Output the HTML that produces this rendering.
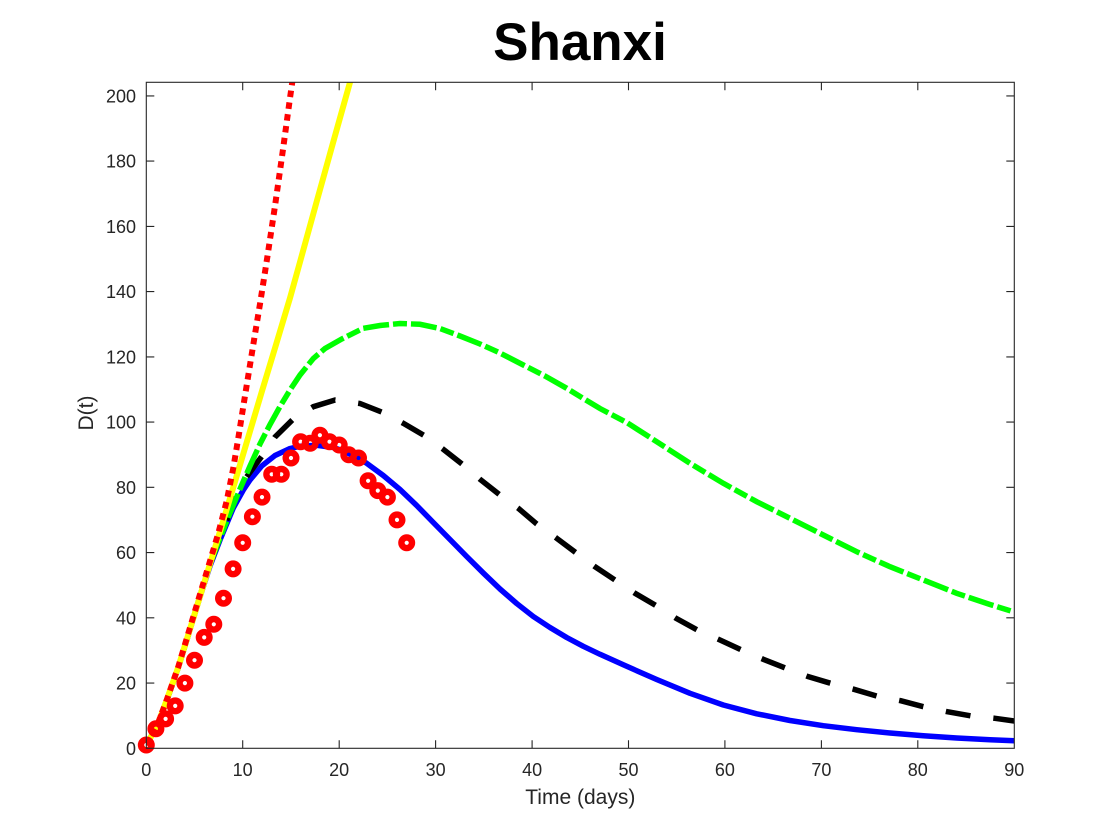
<!DOCTYPE html>
<html>
<head>
<meta charset="utf-8">
<style>
html,body{margin:0;padding:0;background:#fff;}
svg{display:block;}
text{font-family:"Liberation Sans",Arial,Helvetica,sans-serif;fill:#262626;}
</style>
</head>
<body>
<svg width="1120" height="840" viewBox="0 0 1120 840" xmlns="http://www.w3.org/2000/svg">
<defs>
<clipPath id="ax"><rect x="146.3" y="82.3" width="868" height="666"/></clipPath>
</defs>
<rect x="0" y="0" width="1120" height="840" fill="#fff"/>

<!-- title -->
<text x="580" y="60" font-size="53" font-weight="bold" text-anchor="middle" style="fill:#000">Shanxi</text>

<g clip-path="url(#ax)" fill="none" stroke-linejoin="round">
<!-- blue solid -->
<polyline stroke="#0000ff" stroke-width="5.5" points="146.3,745 157,726 166.7,700.5 178.3,667.5 188.3,635 200,597 210,566 220,540 233.3,508 243.3,490 250,480 261.7,466 275,455.5 290,448.5 300,446.3 316.7,445.3 333.3,447.5 343.3,451 355,456.5 366.7,463.3 383.3,475.5 400,489.5 416.7,505.5 433.3,522.5 450,539.5 466.7,556.5 483.3,573 500,589 516.7,603.5 533.3,616.5 550,627.5 566.7,637.5 583.3,646.3 600,654.3 623.3,664.8 656.7,679.5 690,693.3 723.3,705 756.7,713.8 790,720.5 823.3,725.7 856.7,729.7 890,733 923.3,735.7 956.7,738 990,739.7 1014.3,740.7"/>

<!-- black dashed -->
<polyline stroke="#000" stroke-width="5.5" stroke-linejoin="miter" stroke-dasharray="25 23" stroke-dashoffset="25" points="246.7,476.7 233.3,503 220,538 210,564 200,596 188.3,635 178.3,667.5 166.7,700.5 157,726 146.3,745"/>
<polyline stroke="#000" stroke-width="5.5" stroke-linejoin="miter" stroke-dasharray="25 23" points="246.7,476.7 262,456 275,437 293.3,419 313.3,406.7 335,400 360,403.5 383.3,412.7 403.3,423.3 425,436 443.3,449.3 463.3,465 480,479.3 500,495 518.3,508.3 536.7,524 556.7,538.3 576.7,553.3 595,566.7 615,580 635,593.3 656.7,606 676,618.3 697.3,630 720,640 741.7,650 763.3,659.3 786,668.3 808.3,676.7 830.7,683.3 854,689.3 876.7,696 900.7,700.7 923.3,706.7 947.3,711.7 971.7,716 995,718.3 1014.3,721"/>

<!-- green dash-dot -->
<polyline stroke="#00ff00" stroke-width="5.5" stroke-linejoin="miter" stroke-dasharray="14 4 26 4" stroke-dashoffset="44" points="363.3,328.3 341.7,339 325,348.5 313.3,358.5 300,375 290,390 280,406.5 270,424.5 260,444 250,466 240,489 230,513 220,538 210,564 200,596 188.3,635 178.3,667.5 166.7,700.5 157,726 146.3,745"/>
<polyline stroke="#00ff00" stroke-width="5.5" stroke-linejoin="miter" stroke-dasharray="26 4 14 4" points="363.3,328.3 380,325.5 400,323.5 420,324.3 440,328.5 460,336 480,344 500,353 523.3,365 545,376 566.7,388.3 583.3,398.5 600,408.5 626.7,422.5 656.7,441.7 690,463.3 723.3,483.3 756.7,501.7 790,518.3 823.3,535 856.7,551.7 890,566.7 923.3,580 956.7,593.3 990,604.5 1014.3,612"/>

<!-- yellow solid -->
<polyline stroke="#ffff00" stroke-width="6" points="146.3,745 157,726 166.7,700 178.3,667 188.3,634.5 198.3,602 208.3,569.5 221.7,526 235,481.6 248.6,436 262,391 276,344.8 290,298 300,262 316.7,201.5 333.3,141.8 350,82.3 354,68"/>

<!-- red dotted -->
<polyline stroke="#ff0000" stroke-width="6" stroke-dasharray="6.5 5.4" points="146.3,745 157,726 166.7,700 178.3,666.7 188.3,633.3 198.3,600 208.3,566.7 218.3,533.3 226.7,501 233.3,468 238.8,435 244,402 249.5,368 255,334 260,304 267.5,256 275,206 282.5,153 290,98 292.3,82 294,70"/>
</g>

<!-- data markers -->
<g fill="none" stroke="#ff0000" stroke-width="6.4">
<circle cx="146.3" cy="745.0" r="5.3"/>
<circle cx="155.9" cy="728.7" r="5.3"/>
<circle cx="165.6" cy="718.9" r="5.3"/>
<circle cx="175.2" cy="705.9" r="5.3"/>
<circle cx="184.9" cy="683.1" r="5.3"/>
<circle cx="194.5" cy="660.2" r="5.3"/>
<circle cx="204.2" cy="637.4" r="5.3"/>
<circle cx="213.8" cy="624.3" r="5.3"/>
<circle cx="223.5" cy="598.2" r="5.3"/>
<circle cx="233.1" cy="568.9" r="5.3"/>
<circle cx="242.7" cy="542.8" r="5.3"/>
<circle cx="252.4" cy="516.7" r="5.3"/>
<circle cx="262.0" cy="497.1" r="5.3"/>
<circle cx="271.7" cy="474.3" r="5.3"/>
<circle cx="281.3" cy="474.3" r="5.3"/>
<circle cx="291.0" cy="458.0" r="5.3"/>
<circle cx="300.6" cy="441.7" r="5.3"/>
<circle cx="310.2" cy="443.3" r="5.3"/>
<circle cx="319.9" cy="435.2" r="5.3"/>
<circle cx="329.5" cy="441.7" r="5.3"/>
<circle cx="339.2" cy="445.0" r="5.3"/>
<circle cx="348.8" cy="454.7" r="5.3"/>
<circle cx="358.5" cy="458.0" r="5.3"/>
<circle cx="368.1" cy="480.8" r="5.3"/>
<circle cx="377.8" cy="490.6" r="5.3"/>
<circle cx="387.4" cy="497.1" r="5.3"/>
<circle cx="397.0" cy="519.9" r="5.3"/>
<circle cx="406.7" cy="542.8" r="5.3"/>
</g>

<!-- axes box -->
<rect x="146.3" y="82.3" width="868" height="666" fill="none" stroke="#262626" stroke-width="1.1"/>

<!-- ticks -->
<g stroke="#262626" stroke-width="1.1">
<path d="M242.7,748.3v-8M339.2,748.3v-8M435.6,748.3v-8M532.1,748.3v-8M628.5,748.3v-8M724.9,748.3v-8M821.4,748.3v-8M917.8,748.3v-8
M242.7,82.3v8M339.2,82.3v8M435.6,82.3v8M532.1,82.3v8M628.5,82.3v8M724.9,82.3v8M821.4,82.3v8M917.8,82.3v8"/>
<path d="M146.3,683.1h8M146.3,617.8h8M146.3,552.6h8M146.3,487.3h8M146.3,422.1h8M146.3,356.9h8M146.3,291.6h8M146.3,226.4h8M146.3,161.1h8M146.3,95.9h8
M1014.3,683.1h-8M1014.3,617.8h-8M1014.3,552.6h-8M1014.3,487.3h-8M1014.3,422.1h-8M1014.3,356.9h-8M1014.3,291.6h-8M1014.3,226.4h-8M1014.3,161.1h-8M1014.3,95.9h-8"/>
</g>

<!-- x tick labels -->
<g font-size="18" text-anchor="middle">
<text x="146.3" y="776">0</text>
<text x="242.7" y="776">10</text>
<text x="339.2" y="776">20</text>
<text x="435.6" y="776">30</text>
<text x="532.1" y="776">40</text>
<text x="628.5" y="776">50</text>
<text x="724.9" y="776">60</text>
<text x="821.4" y="776">70</text>
<text x="917.8" y="776">80</text>
<text x="1014.3" y="776">90</text>
</g>

<!-- y tick labels -->
<g font-size="18" text-anchor="end">
<text x="136" y="754.8">0</text>
<text x="136" y="689.6">20</text>
<text x="136" y="624.3">40</text>
<text x="136" y="559.1">60</text>
<text x="136" y="493.8">80</text>
<text x="136" y="428.6">100</text>
<text x="136" y="363.4">120</text>
<text x="136" y="298.1">140</text>
<text x="136" y="232.9">160</text>
<text x="136" y="167.6">180</text>
<text x="136" y="102.4">200</text>
</g>

<!-- axis labels -->
<text x="580.3" y="804" font-size="21" text-anchor="middle">Time (days)</text>
<text x="93" y="413" font-size="21" text-anchor="middle" transform="rotate(-90 93 413)">D(t)</text>
</svg>
</body>
</html>
